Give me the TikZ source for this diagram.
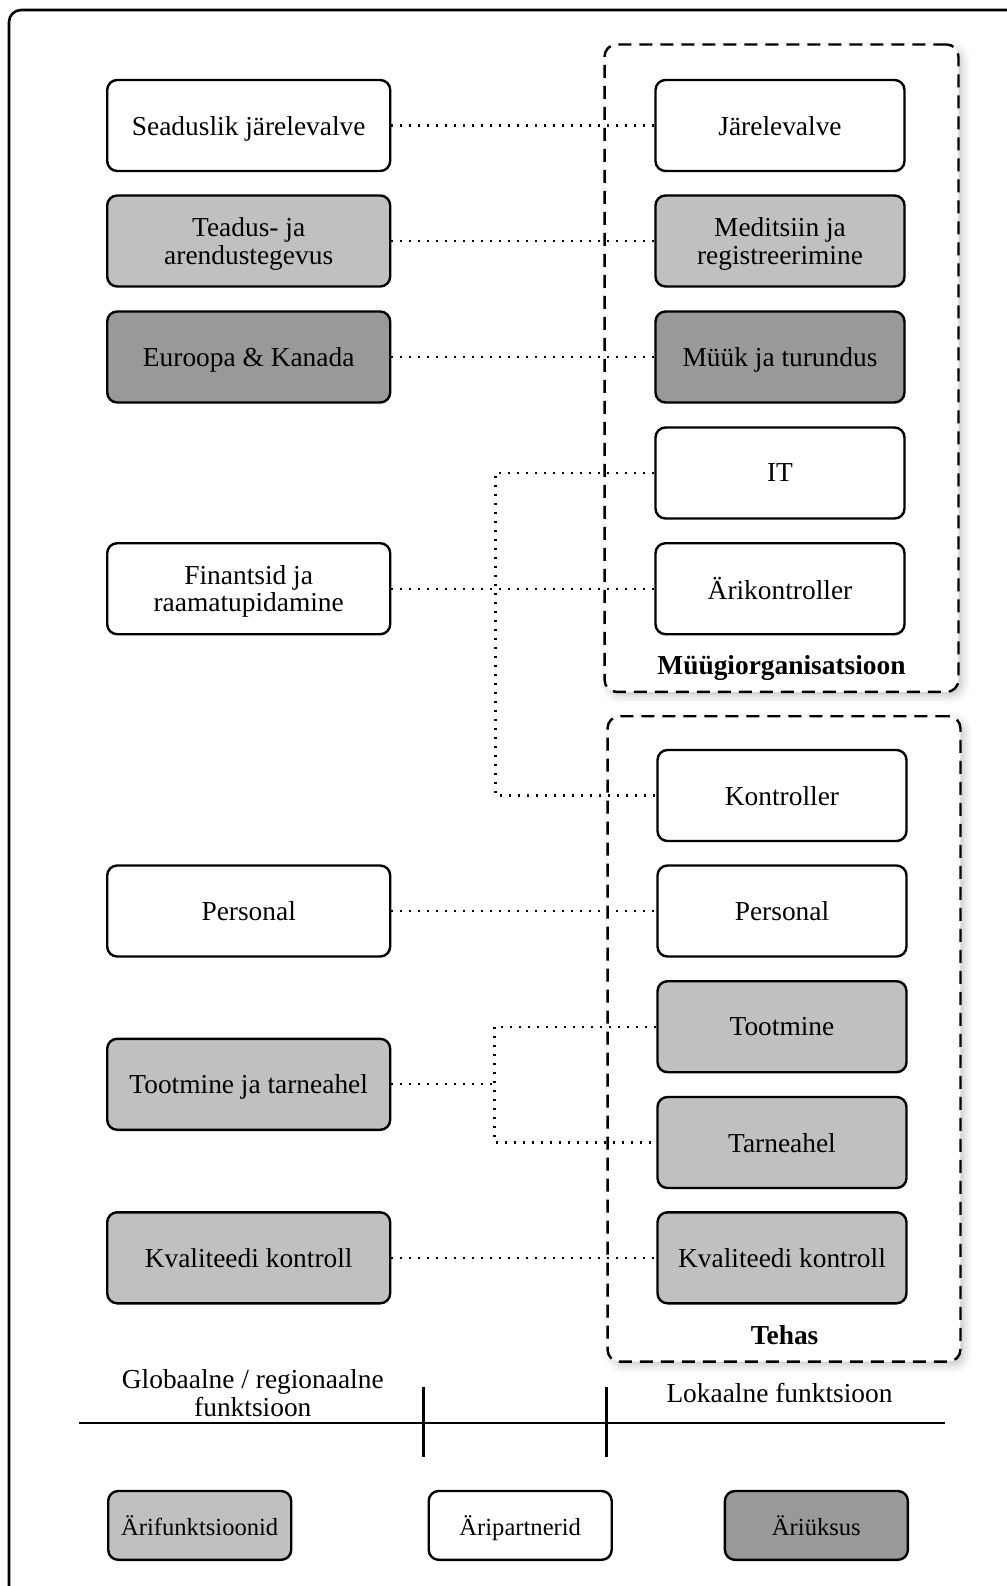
\documentclass[tikz,border=0pt]{standalone}
\usepackage{fontspec}
\setmainfont{Liberation Serif}
\usetikzlibrary{shadows.blur}
\definecolor{funcgray}{RGB}{192,192,192}
\definecolor{unitgray}{RGB}{153,153,153}

\begin{document}
\begin{tikzpicture}[x=0.5pt,y=-0.5pt,
  txt/.style={font=\fontsize{13.7}{13.7}\selectfont},
  unit/.style={draw, line width=1.2pt, rounded corners=5pt, minimum height=45.5pt,
    align=center, inner sep=2pt, text depth=0pt, txt},
  leftbox/.style={unit, minimum width=141.5pt},
  rightbox/.style={unit, minimum width=124.5pt},
  plain/.style={fill=white},
  func/.style={fill=funcgray},
  bunit/.style={fill=unitgray},
  keybox/.style={draw, line width=1.2pt, rounded corners=5pt, minimum width=91.5pt,
    minimum height=34.4pt, inner sep=2pt, text depth=0pt,
    font=\fontsize{12.3}{12.3}\selectfont},
  link/.style={line width=1.15pt, dash pattern=on 1pt off 3.5pt},
  group/.style={draw, line width=1.2pt, dash pattern=on 6.5pt off 4pt, rounded corners=6pt,
    fill=white, blur shadow={shadow xshift=2pt, shadow yshift=-2pt, shadow opacity=22,
    shadow blur radius=4pt}},
  grouplabel/.style={text depth=0pt, font=\fontsize{13.7}{13.7}\selectfont\bfseries}
]
\path[use as bounding box] (0,0) rectangle (1007,1586);

% outer frame, running off the page at the right and bottom
\begin{scope}
  \clip (0,0) rectangle (1007,1586);
  \draw[line width=1.3pt, rounded corners=6pt] (9,10) rectangle (1040,1640);
\end{scope}

% local groupings
\node[group, minimum width=176.95pt, minimum height=323.7pt] (grpA) at (781.5,368.2) {};
\node[grouplabel] (grpAlbl) at (781.5,664.5) {Müügiorganisatsioon};
\node[group, minimum width=176.45pt, minimum height=322.65pt] (grpB) at (784,1038.9) {};
\node[grouplabel] (grpBlbl) at (784.6,1335) {Tehas};

% global / regional functions
\node[leftbox, plain] (gSup)  at (248.7,125.5) {Seaduslik järelevalve};
\node[leftbox, func]  (gRnd)  at (248.7,241)   {Teadus- ja\\arendustegevus};
\node[leftbox, bunit] (gEu)   at (248.7,357)   {Euroopa \& Kanada};
\node[leftbox, plain] (gFin)  at (248.7,588.7) {Finantsid ja\\raamatupidamine};
\node[leftbox, plain] (gHr)   at (248.7,911)   {Personal};
\node[leftbox, func]  (gProd) at (248.7,1084.3){Tootmine ja tarneahel};
\node[leftbox, func]  (gQc)   at (248.7,1257.8){Kvaliteedi kontroll};

% sales organisation
\node[rightbox, plain] (sSup) at (780,125.5) {Järelevalve};
\node[rightbox, func]  (sMed) at (780,241)   {Meditsiin ja\\registreerimine};
\node[rightbox, bunit] (sMkt) at (780,357)   {Müük ja turundus};
\node[rightbox, plain] (sIt)  at (780,473)   {IT};
\node[rightbox, plain] (sCtl) at (780,588.7) {Ärikontroller};

% plant
\node[rightbox, plain] (pCtl)  at (782,795.5)  {Kontroller};
\node[rightbox, plain] (pHr)   at (782,911)    {Personal};
\node[rightbox, func]  (pProd) at (782,1026.7) {Tootmine};
\node[rightbox, func]  (pSc)   at (782,1142.5) {Tarneahel};
\node[rightbox, func]  (pQc)   at (782,1257.8) {Kvaliteedi kontroll};

% dotted links
\coordinate (jFin)  at (495.4,0);
\coordinate (jProd) at (494.4,0);
\draw[link] (gSup.east) -- (sSup.west);
\draw[link] (gRnd.east) -- (sMed.west);
\draw[link] (gEu.east)  -- (sMkt.west);
\draw[link] (gFin.east) -- (sCtl.west);
\draw[link] (sIt.west) -| (jFin |- pCtl.west) -- (pCtl.west);
\draw[link] (gHr.east)  -- (pHr.west);
\draw[link] (gProd.east) -- (jProd |- gProd.east);
\draw[link] (pProd.west) -| (jProd |- pSc.west) -- (pSc.west);
\draw[link] (gQc.east)  -- (pQc.west);

% scope axis
\coordinate (axL) at (79,1423);
\coordinate (axR) at (945,1423);
\draw[line width=1.2pt] (axL) -- (axR);
\draw[line width=1.2pt] (423.6,1386.7) -- (423.6,1456.5);
\draw[line width=1.2pt] (606.6,1386.7) -- (606.6,1456.5);
\node[txt, align=center] (axGlob) at (252.8,1393.3) {Globaalne / regionaalne\\funktsioon};
\node[txt] (axLoc) at (779.5,1392.8) {Lokaalne funktsioon};

% key
\node[keybox, func]  (kFunc) at (199.7,1525.4) {Ärifunktsioonid};
\node[keybox, plain] (kPart) at (520.2,1525.4) {Äripartnerid};
\node[keybox, bunit] (kUnit) at (816.4,1525.4) {Äriüksus};
\end{tikzpicture}
\end{document}
